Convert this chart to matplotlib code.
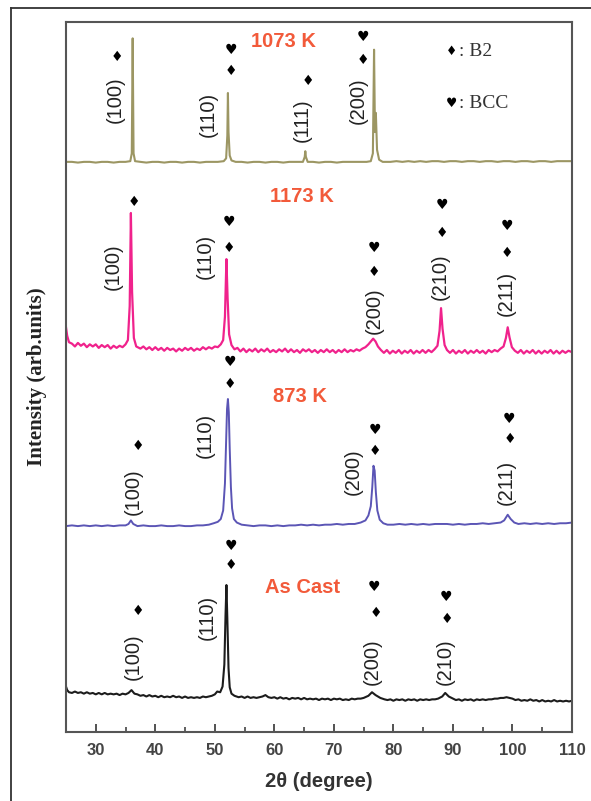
import matplotlib
matplotlib.use("Agg")
import matplotlib.pyplot as plt
from matplotlib.lines import Line2D

# XRD patterns (2theta, intensity in arb. units, stacked with offsets as in the figure)
AS_CAST = [(25.0, 6.4), (25.2, 5.9), (25.5, 5.6), (26.0, 5.5), (26.5, 5.7), (27.0, 5.5), (27.5, 5.6),
           (28.0, 5.4), (28.5, 5.6), (29.0, 5.4), (29.5, 5.5), (30.0, 5.3), (30.5, 5.5), (31.0, 5.3),
           (31.5, 5.5), (32.0, 5.3), (32.5, 5.4), (33.0, 5.3), (33.5, 5.4), (34.0, 5.2), (34.5, 5.4),
           (35.0, 5.3), (35.5, 5.5), (36.0, 5.9), (36.5, 5.4), (37.0, 5.3), (37.5, 5.1), (38.0, 5.2),
           (38.5, 5.0), (39.0, 5.2), (39.5, 5.0), (40.0, 5.1), (40.5, 4.9), (41.0, 5.1), (41.5, 4.9),
           (42.0, 5.0), (42.5, 4.9), (43.0, 5.1), (43.5, 4.9), (44.0, 5.0), (44.5, 4.8), (45.0, 5.0),
           (45.5, 4.8), (46.0, 4.9), (46.5, 4.8), (47.0, 4.9), (47.5, 4.8), (48.0, 5.0), (48.5, 4.9),
           (49.0, 5.0), (49.5, 5.1), (50.0, 5.3), (50.4, 5.7), (50.9, 5.6), (51.3, 6.4), (51.6, 9.5),
           (51.8, 16.5), (51.95, 20.7), (52.1, 16.0), (52.3, 9.0), (52.5, 6.3), (52.8, 5.4), (53.3, 5.1),
           (54.0, 4.9), (54.5, 5.0), (55.0, 4.8), (55.5, 5.0), (56.0, 4.8), (56.5, 4.9), (57.0, 4.8),
           (57.5, 4.9), (58.0, 5.0), (58.5, 5.2), (59.0, 4.9), (59.5, 4.8), (60.0, 4.9), (60.5, 4.7),
           (61.0, 4.9), (61.5, 4.7), (62.0, 4.8), (62.5, 4.6), (63.0, 4.8), (63.5, 4.7), (64.0, 4.8),
           (64.5, 4.6), (65.0, 4.8), (65.5, 4.6), (66.0, 4.7), (66.5, 4.6), (67.0, 4.7), (67.5, 4.5),
           (68.0, 4.7), (68.5, 4.6), (69.0, 4.7), (69.5, 4.5), (70.0, 4.7), (70.5, 4.6), (71.0, 4.7),
           (71.5, 4.5), (72.0, 4.6), (72.5, 4.5), (73.0, 4.7), (73.5, 4.6), (74.0, 4.7), (74.5, 4.7),
           (75.0, 4.8), (75.8, 5.1), (76.4, 5.6), (77.0, 5.2), (77.8, 4.8), (78.5, 4.6), (79.0, 4.5),
           (79.5, 4.6), (80.0, 4.4), (80.5, 4.6), (81.0, 4.5), (81.5, 4.6), (82.0, 4.4), (82.5, 4.6),
           (83.0, 4.5), (83.5, 4.6), (84.0, 4.4), (84.5, 4.6), (85.0, 4.5), (85.5, 4.6), (86.0, 4.5),
           (86.5, 4.6), (87.0, 4.6), (87.5, 4.7), (88.2, 5.0), (88.7, 5.5), (89.3, 5.0), (90.0, 4.7),
           (90.5, 4.5), (91.0, 4.6), (91.5, 4.4), (92.0, 4.6), (92.5, 4.5), (93.0, 4.6), (93.5, 4.4),
           (94.0, 4.6), (94.5, 4.5), (95.0, 4.6), (95.5, 4.5), (96.0, 4.6), (96.5, 4.6), (97.0, 4.7),
           (97.5, 4.7), (98.0, 4.8), (98.5, 4.8), (99.0, 4.9), (99.5, 4.8), (100.0, 4.7), (100.5, 4.5),
           (101.0, 4.6), (101.5, 4.4), (102.0, 4.5), (102.5, 4.4), (103.0, 4.6), (103.5, 4.4),
           (104.0, 4.5), (104.5, 4.3), (105.0, 4.5), (105.5, 4.3), (106.0, 4.4), (106.5, 4.3),
           (107.0, 4.5), (107.5, 4.3), (108.0, 4.4), (108.5, 4.3), (109.0, 4.4), (109.5, 4.3), (110.0, 4.4)]

K873 = [(25.0, 29.0), (26.0, 29.1), (27.0, 29.0), (28.0, 29.1), (29.0, 29.0), (30.0, 29.1), (31.0, 29.0),
        (32.0, 29.1), (33.0, 29.0), (34.0, 29.1), (35.0, 29.1), (35.5, 29.3), (35.9, 29.8), (36.3, 29.3),
        (37.0, 29.0), (38.0, 29.1), (39.0, 29.0), (40.0, 29.0), (41.0, 29.1), (42.0, 29.0), (43.0, 29.0),
        (44.0, 29.1), (45.0, 29.0), (46.0, 29.0), (47.0, 29.1), (48.0, 29.1), (49.0, 29.2), (49.8, 29.4),
        (50.5, 29.6), (51.0, 30.0), (51.4, 31.2), (51.7, 35.0), (51.9, 41.0), (52.05, 45.5), (52.2, 46.9),
        (52.35, 45.0), (52.5, 40.0), (52.7, 34.5), (52.9, 31.5), (53.2, 30.0), (53.7, 29.5), (54.5, 29.2),
        (55.5, 29.1), (56.5, 29.0), (57.5, 29.1), (58.5, 29.1), (59.5, 29.0), (60.5, 29.1), (61.5, 29.0),
        (62.5, 29.1), (63.5, 29.1), (64.5, 29.2), (65.5, 29.1), (66.5, 29.2), (67.5, 29.1), (68.5, 29.2),
        (69.5, 29.2), (70.5, 29.3), (71.5, 29.2), (72.5, 29.3), (73.5, 29.3), (74.5, 29.5), (75.3, 29.8),
        (75.8, 30.5), (76.2, 31.8), (76.45, 34.5), (76.65, 37.5), (76.85, 36.8), (77.05, 33.8),
        (77.3, 31.2), (77.7, 29.9), (78.3, 29.4), (79.0, 29.2), (80.0, 29.2), (81.0, 29.3), (82.0, 29.2),
        (83.0, 29.3), (84.0, 29.2), (85.0, 29.3), (86.0, 29.2), (87.0, 29.3), (88.0, 29.3), (89.0, 29.3),
        (90.0, 29.2), (91.0, 29.3), (92.0, 29.2), (93.0, 29.3), (94.0, 29.3), (95.0, 29.4), (96.0, 29.3),
        (97.0, 29.4), (98.0, 29.5), (98.6, 29.8), (99.2, 30.6), (99.7, 30.0), (100.3, 29.5), (101.0, 29.3),
        (102.0, 29.4), (103.0, 29.3), (104.0, 29.4), (105.0, 29.3), (106.0, 29.4), (107.0, 29.3),
        (108.0, 29.4), (109.0, 29.4), (110.0, 29.5)]

K1173 = [(25.0, 57.0), (25.2, 55.8), (25.5, 54.9), (26.0, 54.7), (26.5, 54.3), (27.0, 54.8), (27.5, 54.4),
         (28.0, 54.7), (28.5, 54.2), (29.0, 54.6), (29.5, 54.3), (30.0, 54.6), (30.5, 54.1), (31.0, 54.5),
         (31.5, 54.2), (32.0, 54.5), (32.5, 54.0), (33.0, 54.4), (33.5, 54.1), (34.0, 54.4), (34.5, 54.2),
         (35.0, 54.6), (35.4, 55.2), (35.7, 60.0), (35.9, 73.1), (36.1, 62.0), (36.4, 55.5), (36.8, 54.3),
         (37.5, 54.0), (38.0, 54.3), (38.5, 53.9), (39.0, 54.2), (39.5, 53.8), (40.0, 54.2), (40.5, 53.8),
         (41.0, 54.1), (41.5, 53.7), (42.0, 54.1), (42.5, 53.8), (43.0, 54.0), (43.5, 53.6), (44.0, 54.0),
         (44.5, 53.7), (45.0, 54.1), (45.5, 53.8), (46.0, 54.1), (46.5, 53.7), (47.0, 54.0), (47.5, 53.8),
         (48.0, 54.2), (48.5, 53.9), (49.0, 54.2), (49.5, 54.0), (50.0, 54.3), (50.5, 54.2), (51.0, 54.6),
         (51.4, 55.2), (51.7, 58.5), (51.95, 66.6), (52.15, 61.0), (52.4, 56.0), (52.8, 54.5), (53.3, 53.9),
         (53.8, 54.1), (54.3, 53.6), (54.8, 54.0), (55.3, 53.5), (55.8, 53.9), (56.3, 53.6), (56.8, 54.0),
         (57.3, 53.5), (57.8, 53.9), (58.3, 53.6), (58.8, 54.0), (59.3, 53.5), (59.8, 53.8), (60.3, 53.5),
         (60.8, 53.9), (61.3, 53.6), (61.8, 54.0), (62.3, 53.5), (62.8, 53.9), (63.3, 53.5), (63.8, 53.8),
         (64.3, 53.4), (64.8, 53.9), (65.3, 53.6), (65.8, 53.9), (66.3, 53.5), (66.8, 53.8), (67.3, 53.4),
         (67.8, 53.8), (68.3, 53.5), (68.8, 53.9), (69.3, 53.5), (69.8, 53.8), (70.3, 53.4), (70.8, 53.8),
         (71.3, 53.5), (71.8, 53.9), (72.3, 53.5), (72.8, 53.8), (73.3, 53.6), (73.8, 53.9), (74.3, 53.7),
         (74.8, 54.0), (75.3, 54.2), (75.8, 54.6), (76.3, 55.1), (76.6, 55.4), (77.0, 55.0), (77.4, 54.3),
         (77.9, 53.8), (78.4, 53.4), (78.9, 53.8), (79.4, 53.3), (79.9, 53.7), (80.4, 53.4), (80.9, 53.8),
         (81.4, 53.3), (81.9, 53.7), (82.4, 53.4), (82.9, 53.8), (83.4, 53.3), (83.9, 53.7), (84.4, 53.4),
         (84.9, 53.8), (85.4, 53.4), (85.9, 53.8), (86.4, 53.5), (86.9, 53.9), (87.4, 54.4), (87.75, 56.5),
         (88.0, 59.7), (88.25, 56.8), (88.6, 54.5), (89.0, 53.8), (89.5, 53.4), (90.0, 53.8), (90.5, 53.3),
         (91.0, 53.7), (91.5, 53.4), (92.0, 53.8), (92.5, 53.3), (93.0, 53.7), (93.5, 53.4), (94.0, 53.8),
         (94.5, 53.4), (95.0, 53.7), (95.5, 53.3), (96.0, 53.8), (96.5, 53.5), (97.0, 53.8), (97.5, 53.6),
         (98.0, 54.0), (98.5, 54.3), (98.9, 55.5), (99.2, 57.0), (99.5, 55.6), (99.9, 54.2), (100.4, 53.7),
         (100.9, 53.4), (101.4, 53.8), (101.9, 53.3), (102.4, 53.7), (102.9, 53.4), (103.4, 53.8),
         (103.9, 53.3), (104.4, 53.7), (104.9, 53.3), (105.4, 53.7), (105.9, 53.4), (106.4, 53.8),
         (106.9, 53.3), (107.4, 53.7), (107.9, 53.3), (108.4, 53.7), (108.9, 53.4), (109.4, 53.7),
         (110.0, 53.5)]

K1073 = [(25.0, 80.3), (26.0, 80.3), (27.0, 80.2), (28.0, 80.3), (29.0, 80.3), (30.0, 80.2), (31.0, 80.3),
         (32.0, 80.3), (33.0, 80.2), (34.0, 80.3), (35.0, 80.3), (35.8, 80.4), (36.05, 81.5), (36.2, 97.7),
         (36.35, 81.5), (36.6, 80.4), (37.5, 80.3), (38.5, 80.2), (39.5, 80.3), (40.5, 80.3), (41.5, 80.2),
         (42.5, 80.3), (43.5, 80.3), (44.5, 80.2), (45.5, 80.3), (46.5, 80.3), (47.5, 80.2), (48.5, 80.3),
         (49.5, 80.3), (50.5, 80.3), (51.5, 80.4), (51.9, 80.8), (52.1, 84.0), (52.2, 90.0), (52.3, 84.5),
         (52.5, 81.2), (52.8, 80.5), (53.5, 80.3), (54.5, 80.3), (55.5, 80.2), (56.5, 80.3), (57.5, 80.3),
         (58.5, 80.2), (59.5, 80.3), (60.5, 80.3), (61.5, 80.2), (62.5, 80.3), (63.5, 80.3), (64.8, 80.3),
         (65.1, 81.0), (65.2, 81.8), (65.3, 81.0), (65.6, 80.3), (66.5, 80.3), (67.5, 80.2), (68.5, 80.3),
         (69.5, 80.3), (70.5, 80.2), (71.5, 80.3), (72.5, 80.3), (73.5, 80.3), (74.5, 80.3), (75.5, 80.3),
         (76.2, 80.4), (76.55, 81.5), (76.75, 96.1), (76.9, 84.5), (77.05, 87.2), (77.25, 82.0),
         (77.6, 80.6), (78.2, 80.3), (79.5, 80.3), (80.5, 80.4), (81.5, 80.3), (82.5, 80.4), (83.5, 80.3),
         (84.5, 80.4), (85.5, 80.3), (86.5, 80.4), (87.5, 80.4), (88.5, 80.3), (89.5, 80.4), (90.5, 80.4),
         (91.5, 80.3), (92.5, 80.4), (93.5, 80.4), (94.5, 80.3), (95.5, 80.4), (96.5, 80.4), (97.5, 80.3),
         (98.5, 80.4), (99.5, 80.4), (100.5, 80.3), (101.5, 80.4), (102.5, 80.4), (103.5, 80.3),
         (104.5, 80.4), (105.5, 80.4), (106.5, 80.3), (107.5, 80.4), (108.5, 80.4), (109.5, 80.4),
         (110.0, 80.4)]

PATTERNS = [("As Cast", AS_CAST, "#1c1c1c", 1.5),
            ("873 K", K873, "#5b55b5", 1.4),
            ("1173 K", K1173, "#f0228c", 1.6),
            ("1073 K", K1073, "#9c9663", 1.5)]

# sample names (text, x, y)
SAMPLE_TAGS = [("As Cast", 64.7, 20.4), ("873 K", 64.3, 47.3),
               ("1173 K", 64.7, 75.4), ("1073 K", 61.5, 97.2)]

# hkl labels (text, x, y)
HKL = [("(100)", 33.2, 89.0), ("(110)", 48.9, 87.0), ("(111)", 64.7, 86.2), ("(200)", 74.1, 88.9),
       ("(100)", 32.9, 65.6), ("(110)", 48.4, 67.0), ("(200)", 76.8, 59.3), ("(210)", 87.9, 64.1),
       ("(211)", 98.9, 61.8),
       ("(100)", 36.3, 33.8), ("(110)", 48.4, 41.8), ("(200)", 73.2, 36.6), ("(211)", 98.9, 35.1),
       ("(100)", 36.3, 10.6), ("(110)", 48.7, 16.2), ("(200)", 76.4, 9.9), ("(210)", 88.7, 9.9)]

B2 = "\u2666"
BCC = "\u2665"
PHASE_MARKS = [(B2, 33.6, 95.1), (BCC, 52.7, 96.1), (B2, 52.7, 93.1), (B2, 65.7, 91.7),
               (BCC, 74.9, 97.9), (B2, 74.9, 94.6),
               (B2, 36.4, 74.6), (BCC, 52.4, 71.8), (B2, 52.4, 68.2), (BCC, 76.8, 68.2), (B2, 76.8, 64.8),
               (BCC, 88.2, 74.2), (B2, 88.2, 70.3), (BCC, 99.1, 71.3), (B2, 99.1, 67.5),
               (B2, 37.1, 40.3), (BCC, 52.6, 52.1), (B2, 52.6, 49.0), (BCC, 76.9, 42.5), (B2, 76.9, 39.6),
               (BCC, 99.5, 44.1), (B2, 99.5, 41.3),
               (B2, 37.1, 17.0), (BCC, 52.7, 26.2), (B2, 52.7, 23.5), (BCC, 76.8, 20.4), (B2, 77.1, 16.8),
               (BCC, 88.9, 19.0), (B2, 89.0, 15.9)]

XTICKS = [30, 40, 50, 60, 70, 80, 90, 100, 110]

fig = plt.figure(figsize=(5.91, 8.01), dpi=100)
ax = fig.add_axes([66 / 591, 69 / 801, 506 / 591, 710 / 801])

for name, pts, col, lw in PATTERNS:
    xs = [p[0] for p in pts]
    ys = [p[1] for p in pts]
    ax.plot(xs, ys, color=col, lw=lw, solid_joinstyle="round")

for txt, x, y in SAMPLE_TAGS:
    ax.text(x, y, txt, color="#f25a3a", fontsize=14.5, fontweight="bold",
            family="Liberation Sans", ha="center", va="center")

for txt, x, y in HKL:
    ax.text(x, y, txt, rotation=90, fontsize=14.5, color="#222222",
            family="Liberation Sans", ha="center", va="center")

for sym, x, y in PHASE_MARKS:
    ax.text(x, y, sym, fontsize=10, color="black", family="DejaVu Sans", ha="center", va="center")

# phase legend
ax.text(89.8, 95.8, B2, fontsize=9, family="DejaVu Sans", ha="center", va="center")
ax.text(91.0, 95.8, ": B2", fontsize=14, family="Liberation Serif", color="#333333", ha="left", va="center")
ax.text(89.8, 88.5, BCC, fontsize=9, family="DejaVu Sans", ha="center", va="center")
ax.text(91.0, 88.5, ": BCC", fontsize=14, family="Liberation Serif", color="#333333", ha="left", va="center")

ax.set_xlim(25, 110)
ax.set_ylim(0, 100)
ax.set_xticks(XTICKS)
ax.set_xticks([35, 45, 55, 65, 75, 85, 95, 105], minor=True)
ax.set_yticks([])
ax.tick_params(axis="x", which="major", direction="in", length=6, width=1.3, color="#444444",
               labelsize=12, labelcolor="#444444", pad=8)
ax.tick_params(axis="x", which="minor", direction="in", length=3.5, width=1.2, color="#444444")
for lab in ax.get_xticklabels():
    lab.set_fontweight("bold")
    lab.set_family("Liberation Sans")
for s in ax.spines.values():
    s.set_color("#555555")
    s.set_linewidth(1.5)

ax.set_xlabel("2\u03b8 (degree)", fontsize=14.5, fontweight="bold", family="Liberation Sans",
              color="#333333", labelpad=10)
ax.set_ylabel("Intensity (arb.units)", fontsize=15, fontweight="bold", family="Liberation Serif",
              color="#222222", labelpad=14)

# outer frame of the original figure panel
fig.add_artist(Line2D([11 / 591, 11 / 591], [0, 1 - 8 / 801], transform=fig.transFigure,
                      color="#333333", lw=1.3))
fig.add_artist(Line2D([11 / 591, 1], [1 - 8 / 801, 1 - 8 / 801], transform=fig.transFigure,
                      color="#333333", lw=1.3))

fig.savefig("out.png", dpi=100)
